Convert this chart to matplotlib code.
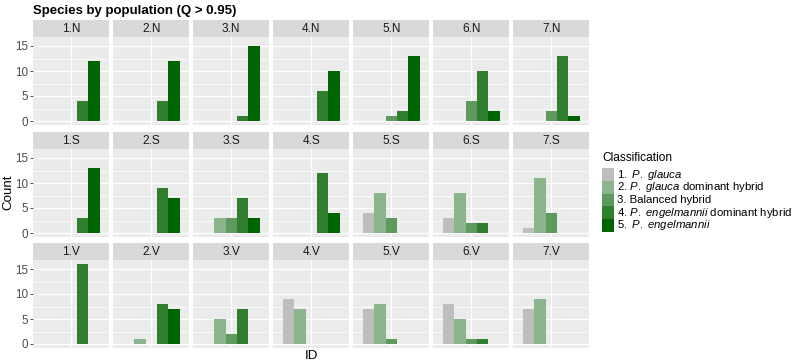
import matplotlib.pyplot as plt
from matplotlib.patches import Rectangle

plt.rcParams["font.family"] = ["Liberation Sans", "DejaVu Sans"]
plt.rcParams["mathtext.fontset"] = "custom"
plt.rcParams["mathtext.rm"] = "Liberation Sans"
plt.rcParams["mathtext.it"] = "Liberation Sans:italic"

# Data
regions = ["N", "S", "V"]
populations = ["1", "2", "3", "4", "5", "6", "7"]
class_labels = [
    r"$\it{1.\ P.\ glauca}$",
    r"2. $\it{P.\ glauca}$ dominant hybrid",
    "3. Balanced hybrid",
    r"4. $\it{P.\ engelmannii}$ dominant hybrid",
    r"$\it{5.\ P.\ engelmannii}$",
]
class_colors = ["#bebebe", "#8db58d", "#5e9a5e", "#2f7f2f", "#006400"]

# counts per population: [class1, class2, class3, class4, class5]
counts_N = [
    [0, 0, 0, 4, 12],
    [0, 0, 0, 4, 12],
    [0, 0, 0, 1, 15],
    [0, 0, 0, 6, 10],
    [0, 0, 1, 2, 13],
    [0, 0, 4, 10, 2],
    [0, 0, 2, 13, 1],
]
counts_S = [
    [0, 0, 0, 3, 13],
    [0, 0, 0, 9, 7],
    [0, 3, 3, 7, 3],
    [0, 0, 0, 12, 4],
    [4, 8, 3, 0, 0],
    [3, 8, 2, 2, 0],
    [1, 11, 4, 0, 0],
]
counts_V = [
    [0, 0, 0, 16, 0],
    [0, 1, 0, 8, 7],
    [0, 5, 2, 7, 0],
    [9, 7, 0, 0, 0],
    [7, 8, 1, 0, 0],
    [8, 5, 1, 1, 0],
    [7, 9, 0, 0, 0],
]
all_counts = [counts_N, counts_S, counts_V]

W, H = 800, 363
fig = plt.figure(figsize=(W / 100, H / 100), dpi=100)


def fx(px):
    return px / W


def fy(py):
    return 1 - py / H


panel_left0 = 33.3
panel_w = 76
col_step = 80
strip_tops = [20, 132, 243]
strip_h = 17
panel_h = 88
slot_w = 0.18

for r, region in enumerate(regions):
    for c, pop in enumerate(populations):
        left = panel_left0 + c * col_step
        top = strip_tops[r]

        # strip
        sax = fig.add_axes([fx(left), fy(top + strip_h), panel_w / W, strip_h / H])
        sax.set_facecolor("#d9d9d9")
        sax.set_xticks([])
        sax.set_yticks([])
        for s in sax.spines.values():
            s.set_visible(False)
        sax.text(0.5, 0.47, f"{pop}.{region}", ha="center", va="center",
                 fontsize=8.6, color="#1a1a1a", transform=sax.transAxes)

        # panel
        ax = fig.add_axes([fx(left), fy(top + strip_h + panel_h), panel_w / W, panel_h / H])
        ax.set_facecolor("#ebebeb")
        for s in ax.spines.values():
            s.set_visible(False)
        ax.set_xlim(0.4, 1.6)
        ax.set_ylim(-0.8, 16.8)
        ax.set_yticks([0, 5, 10, 15])
        ax.set_yticks([2.5, 7.5, 12.5], minor=True)
        ax.set_xticks([1])
        ax.grid(True, which="major", color="white", lw=1.0)
        ax.grid(True, which="minor", axis="y", color="white", lw=0.5)
        ax.set_axisbelow(True)
        ax.tick_params(axis="x", length=0, labelbottom=False)
        ax.tick_params(axis="y", which="minor", length=0)
        if c == 0:
            ax.tick_params(axis="y", which="major", length=2.5, width=0.6,
                           color="#333333", labelsize=8.4, labelcolor="#4d4d4d", pad=1)
        else:
            ax.tick_params(axis="y", which="major", length=0, labelleft=False)

        vals = all_counts[r][c]
        for k, v in enumerate(vals):
            if v > 0:
                ax.bar(1 + (k - 2) * slot_w, v, width=slot_w, color=class_colors[k], lw=0)

fig.text(fx(33), fy(14), "Species by population (Q > 0.95)", fontsize=9.5,
         fontweight="bold", ha="left", va="baseline")
fig.text(fx(8), fy(192), "Count", rotation=90, ha="center", va="center", fontsize=9.6)
fig.text(fx(311), fy(356), "ID", ha="center", va="center", fontsize=9.6)

# legend
fig.text(fx(602), fy(158), "Classification", ha="left", va="center", fontsize=8.6)
key_top = 168.3
key_h = 12.7
for k, (lab, col) in enumerate(zip(class_labels, class_colors)):
    y0 = key_top + k * key_h
    fig.add_artist(Rectangle((fx(602), fy(y0 + key_h)), 11.7 / W, key_h / H,
                             transform=fig.transFigure, facecolor=col, lw=0))
    fig.text(fx(617), fy(y0 + key_h / 2), lab, ha="left", va="center", fontsize=8.2)

fig.savefig("out.png", dpi=100)
